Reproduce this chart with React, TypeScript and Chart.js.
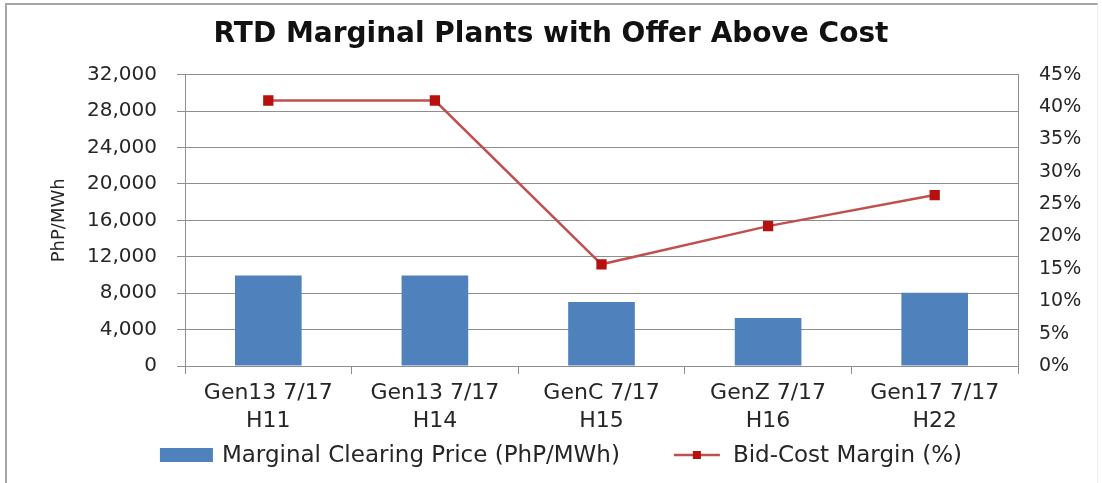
import React, { useEffect, useRef } from "react";
import { Chart, registerables } from "chart.js";

Chart.register(...registerables);

const categories: string[][] = [
  ["Gen13 7/17", "H11"],
  ["Gen13 7/17", "H14"],
  ["GenC 7/17", "H15"],
  ["GenZ 7/17", "H16"],
  ["Gen17 7/17", "H22"],
];
const clearingPrice: number[] = [9950, 9950, 7040, 5270, 8050];
const bidCostMargin: number[] = [41.0, 41.0, 15.7, 21.6, 26.4];
const priceTicks = { min: 0, max: 32000, step: 4000 };
const marginTicks = { min: 0, max: 45, step: 5 };

const BLUE = "#4F81BD";
const RED_LINE = "#C0504D";
const RED_MARK = "#B80F0F";
const GRID = "#8E8E8E";
const TEXT = "#262626";
const FONT = "'DejaVu Sans', sans-serif";

const legendPlugin = {
  id: "customLegend",
  afterDraw(chart: any) {
    const ctx = chart.ctx;
    const ds = chart.data.datasets;
    ctx.save();
    ctx.font = `23px ${FONT}`;
    ctx.textBaseline = "middle";
    ctx.textAlign = "left";
    const sw1 = 53, gap1 = 9, sw2 = 46, gap2 = 13, between = 54;
    const t1 = ctx.measureText(ds[0].label).width;
    const t2 = ctx.measureText(ds[1].label).width;
    const total = sw1 + gap1 + t1 + between + sw2 + gap2 + t2;
    let x = chart.width / 2 + 10 - total / 2;
    const y = 455;
    ctx.fillStyle = BLUE;
    ctx.fillRect(x, y - 7, sw1, 14);
    x += sw1 + gap1;
    ctx.fillStyle = TEXT;
    ctx.fillText(ds[0].label, x, y + 1);
    x += t1 + between;
    ctx.strokeStyle = RED_LINE;
    ctx.lineWidth = 2.5;
    ctx.beginPath();
    ctx.moveTo(x, y);
    ctx.lineTo(x + sw2, y);
    ctx.stroke();
    ctx.fillStyle = RED_MARK;
    ctx.fillRect(x + sw2 / 2 - 4, y - 4, 8, 8);
    x += sw2 + gap2;
    ctx.fillStyle = TEXT;
    ctx.fillText(ds[1].label, x, y + 1);
    ctx.restore();
  },
};

export default function App() {
  const ref = useRef<HTMLCanvasElement | null>(null);
  useEffect(() => {
    if (!ref.current) return;
    const chart = new Chart(ref.current, {
      type: "bar",
      data: {
        labels: categories,
        datasets: [
          {
            type: "bar",
            label: "Marginal Clearing Price (PhP/MWh)",
            data: clearingPrice,
            backgroundColor: BLUE,
            borderWidth: 0,
            yAxisID: "y",
            categoryPercentage: 1,
            barPercentage: 0.4,
            order: 2,
          },
          {
            type: "line",
            label: "Bid-Cost Margin (%)",
            data: bidCostMargin,
            borderColor: RED_LINE,
            borderWidth: 2.5,
            backgroundColor: RED_MARK,
            pointBackgroundColor: RED_MARK,
            pointBorderColor: RED_MARK,
            pointStyle: "rect",
            pointRadius: 5.5,
            tension: 0,
            yAxisID: "y1",
            order: 1,
          },
        ] as any,
      },
      plugins: [legendPlugin],
      options: {
        responsive: true,
        maintainAspectRatio: false,
        animation: false,
        layout: { padding: { left: 0, right: 0, top: 0, bottom: 49 } },
        plugins: {
          legend: { display: false },
          tooltip: { enabled: false },
          title: {
            display: true,
            text: "RTD Marginal Plants with Offer Above Cost",
            color: "#111",
            font: { family: FONT, size: 28, weight: "bold" },
            padding: { top: 18, bottom: 23 },
          },
        },
        scales: {
          x: {
            afterFit: (s: any) => { s.height = 68; },
            grid: {
              offset: true,
              drawOnChartArea: false,
              tickLength: 8,
              color: GRID,
            },
            border: { display: true, color: GRID, width: 1 },
            ticks: {
              color: TEXT,
              padding: 5,
              font: { family: FONT, size: 22, lineHeight: 1.27 },
              maxRotation: 0,
              autoSkip: false,
            },
          },
          y: {
            position: "left",
            min: priceTicks.min,
            max: priceTicks.max,
            afterFit: (s: any) => { s.width = 185; },
            grid: { color: GRID, tickLength: 8 },
            border: { display: true, color: GRID, width: 1 },
            ticks: {
              stepSize: priceTicks.step,
              color: TEXT,
              padding: 20,
              font: { family: FONT, size: 20 },
              callback: (v: any) => Number(v).toLocaleString("en-US"),
            },
            title: {
              display: true,
              text: "PhP/MWh",
              color: TEXT,
              font: { family: FONT, size: 18 },
              padding: { top: 49, bottom: 0 },
            },
          },
          y1: {
            position: "right",
            min: marginTicks.min,
            max: marginTicks.max,
            afterFit: (s: any) => { s.width = 84; },
            grid: { drawOnChartArea: false, drawTicks: false },
            border: { display: true, color: GRID, width: 1 },
            ticks: {
              stepSize: marginTicks.step,
              color: TEXT,
              padding: 21,
              font: { family: FONT, size: 19 },
              callback: (v: any) => `${v}%`,
            },
          },
        },
      } as any,
    });
    return () => chart.destroy();
  }, []);

  return (
    <div style={{ position: "absolute", left: 0, top: 0, width: 1102, height: 483, background: "#fff" }}>
      <div
        style={{
          position: "absolute",
          left: 5,
          top: 3,
          width: 1093,
          height: 490,
          borderLeft: "2px solid #a6a6a6",
          borderTop: "2px solid #a6a6a6",
          borderRight: "1px solid #ededed",
          boxSizing: "border-box",
        }}
      />
      <canvas ref={ref} style={{ position: "absolute", left: 0, top: 0 }} width={1102} height={483} />
    </div>
  );
}
